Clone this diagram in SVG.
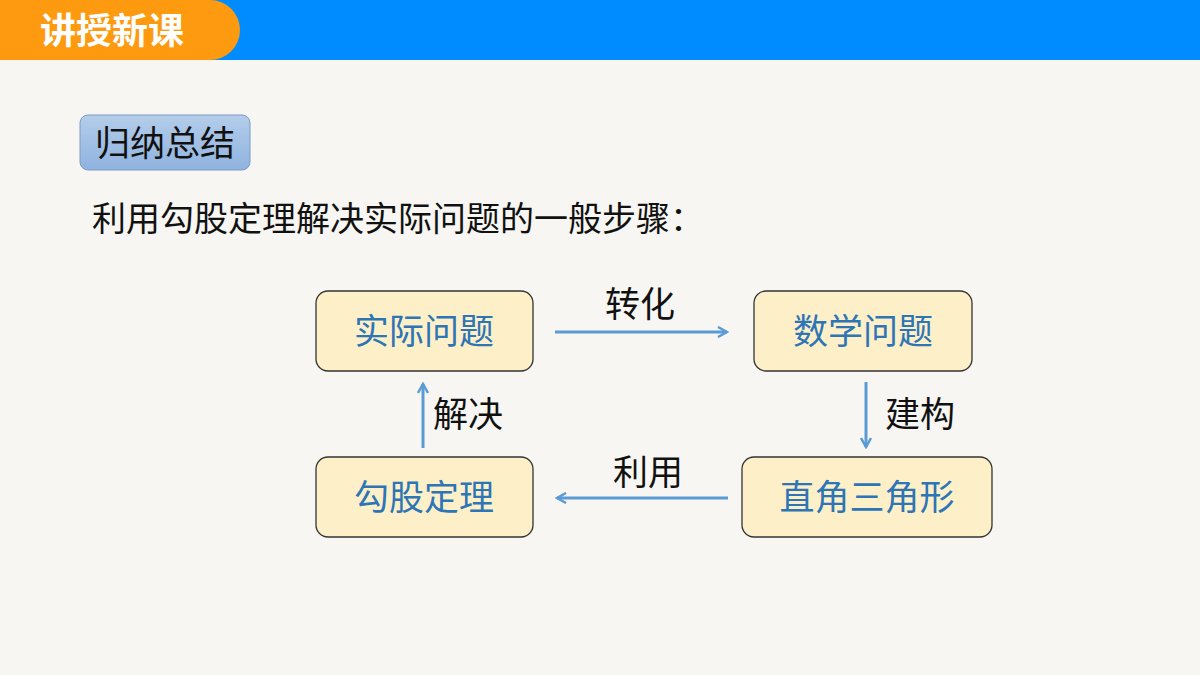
<svg xmlns="http://www.w3.org/2000/svg" width="1200" height="675" viewBox="0 0 1200 675">
<defs>
<style>
.cjk{font-family:"Noto Sans CJK SC","Noto Sans",sans-serif}
.box{fill:#fdf0c8;stroke:#333;stroke-width:1.3}
.bt{font-size:35px;fill:#2e75b6;text-anchor:middle}
.lb{font-size:35px;fill:#111}
.cn{stroke:#5b9bd5;stroke-width:3;fill:none}
</style>
<marker id="ah" viewBox="0 0 12 12" refX="10" refY="6" markerWidth="12" markerHeight="12" markerUnits="userSpaceOnUse" orient="auto">
<path d="M1,1 L10,6 L1,11" fill="none" stroke="#5b9bd5" stroke-width="2.5"/>
</marker>
<linearGradient id="g1" x1="0" y1="0" x2="0" y2="1"><stop offset="0" stop-color="#b4cdea"/><stop offset="1" stop-color="#8fb3df"/></linearGradient>
</defs>
<rect width="1200" height="675" fill="#f7f6f2"/>
<rect width="1200" height="60" fill="#008cff"/>
<path d="M0,0 H210 A30,30 0 0 1 210,60 H0 Z" fill="#fd9a10"/>
<text x="40" y="44" class="cjk" font-size="36" font-weight="bold" fill="#fff">讲授新课</text>
<g id="summary"><rect x="80" y="115" width="170" height="55" rx="8" fill="url(#g1)" stroke="#7a9cc6"/>
<text x="165" y="156" class="cjk" font-size="35" fill="#111" text-anchor="middle">归纳总结</text></g>
<text x="92" y="231" class="cjk" font-size="34" fill="#111">利用勾股定理解决实际问题的一般步骤：</text>
<g id="n1"><rect class="box" x="316" y="291" width="217" height="80" rx="12"/><text class="cjk bt" x="424" y="344">实际问题</text></g>
<g id="n2"><rect class="box" x="754" y="291" width="218" height="80" rx="12"/><text class="cjk bt" x="863" y="344">数学问题</text></g>
<g id="n3"><rect class="box" x="742" y="457" width="250" height="80" rx="12"/><text class="cjk bt" x="867" y="510">直角三角形</text></g>
<g id="n4"><rect class="box" x="316" y="457" width="217" height="80" rx="12"/><text class="cjk bt" x="424" y="510">勾股定理</text></g>
<g id="connectors">
<line class="cn" x1="555" y1="332" x2="727" y2="332" marker-end="url(#ah)"/>
<line class="cn" x1="866" y1="382" x2="866" y2="447" marker-end="url(#ah)"/>
<line class="cn" x1="728" y1="498" x2="557" y2="498" marker-end="url(#ah)"/>
<line class="cn" x1="423" y1="448" x2="423" y2="384" marker-end="url(#ah)"/>
<text class="cjk lb" x="605" y="317">转化</text>
<text class="cjk lb" x="885" y="427">建构</text>
<text class="cjk lb" x="613" y="485">利用</text>
<text class="cjk lb" x="433" y="427">解决</text>
</g>
</svg>
